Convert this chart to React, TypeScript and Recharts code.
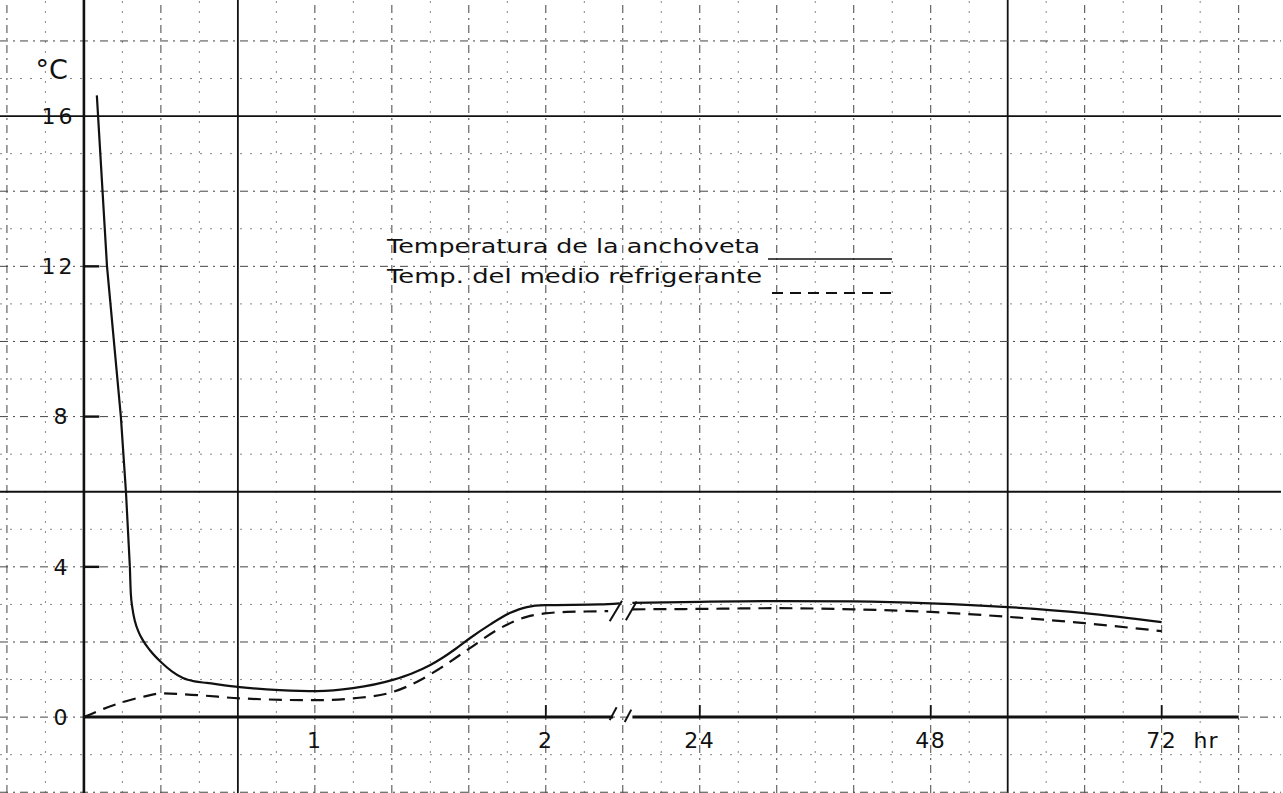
import React from 'react';
import {
  LineChart, Line, XAxis, YAxis, ReferenceLine, ReferenceDot, Legend,
} from 'recharts';

// ---- data (hours, °C) ----
// anchoveta: steep initial drop (drawn straight), then smooth curve
const anchovetaDropHours = [0.056, 0.1, 0.16, 0.182, 0.199];
const anchovetaDropTemp = [16.55, 12.0, 8.0, 6.0, 4.0];
const anchovetaLeftHours = [0.199, 0.203, 0.21, 0.221, 0.238, 0.255, 0.286, 0.338, 0.381, 0.429, 0.48, 0.532, 0.675, 0.848, 1.009, 1.165, 1.338, 1.42, 1.498, 1.553, 1.61, 1.671, 1.76, 1.844, 1.918, 1.996, 2.234, 2.32];
const anchovetaLeftTemp = [4.0, 3.3, 2.9, 2.55, 2.25, 2.05, 1.78, 1.44, 1.22, 1.04, 0.95, 0.91, 0.8, 0.72, 0.69, 0.77, 0.99, 1.16, 1.38, 1.58, 1.82, 2.1, 2.47, 2.77, 2.93, 2.98, 3.0, 3.03];
const medioLeftHours = [0, 0.085, 0.169, 0.255, 0.338, 0.502, 0.675, 1.008, 1.165, 1.338, 1.455, 1.54, 1.67, 1.8, 1.917, 1.995, 2.09, 2.27];
const medioLeftTemp = [0, 0.22, 0.4, 0.54, 0.63, 0.58, 0.5, 0.45, 0.5, 0.67, 0.98, 1.29, 1.83, 2.36, 2.67, 2.76, 2.8, 2.82];
const rightHours = [17, 24, 32, 40, 48, 56, 64, 72];
const anchovetaRightTemp = [3.04, 3.07, 3.09, 3.08, 3.03, 2.93, 2.77, 2.53];
const medioRightTemp = [2.87, 2.88, 2.9, 2.87, 2.8, 2.67, 2.5, 2.29];

// ---- axis labels / ticks ----
const yTickValues = [0, 4, 8, 12, 16];
const yTickMarks = [4, 8, 12];
const xTickHoursLeft = [1, 2];
const xTickHoursRight = [24, 48, 72];
const xTickMarksLeft = [2];
const gridX = Array.from({ length: 33 }, (_, i) => i - 2);
const gridY = Array.from({ length: 21 }, (_, i) => i - 2);
const majorGridX = [4, 24];
const majorGridY = [16, 6];

const SERIES_1 = 'Temperatura de la anchoveta';
const SERIES_2 = 'Temp. del medio refrigerante';
const LEGEND_ORDER = [SERIES_1, SERIES_2];

// broken time axis: 0-2 h on the left (6 grid cells per hour), 24-72 h on the right (4 h per cell)
const posLeft = (h: number) => h * 6;
const posRight = (h: number) => 16 + (h - 24) / 4;

const build = (hs: number[], ts: number[], f: (h: number) => number) =>
  hs.map((h, i) => ({ pos: f(h), t: ts[i] }));

const anchovetaDrop = build(anchovetaDropHours, anchovetaDropTemp, posLeft);
const anchovetaLeft = build(anchovetaLeftHours, anchovetaLeftTemp, posLeft);
const anchovetaRight = build(rightHours, anchovetaRightTemp, posRight);
const medioLeft = build(medioLeftHours, medioLeftTemp, posLeft);
const medioRight = build(rightHours, medioRightTemp, posRight);

const FONT = 'DejaVu Sans';
const INK = '#111';

const renderLegend = (props: any) => {
  const items = (props.payload || [])
    .filter((p: any) => p.type !== 'none')
    .sort((a: any, b: any) => LEGEND_ORDER.indexOf(a.value) - LEGEND_ORDER.indexOf(b.value));
  return (
    <svg width={530} height={75} style={{ display: 'block', overflow: 'visible' }}>
      {items.map((it: any, i: number) => {
        const dashed = it.value === SERIES_2;
        const by = 23 + i * 30;
        return (
          <g key={it.value}>
            <text x={7} y={by} fontSize={19} fontFamily={FONT} fill={INK}
              textLength={dashed ? 375 : 373} lengthAdjust="spacingAndGlyphs">{it.value}</text>
            <line x1={dashed ? 392 : 388} x2={512} y1={by + (dashed ? 10 : 6)} y2={by + (dashed ? 10 : 6)}
              stroke={INK} strokeWidth={dashed ? 1.8 : 1.5} strokeDasharray={dashed ? '11 7' : undefined} />
          </g>
        );
      })}
    </svg>
  );
};

const labelStyle = { fontSize: 22, fontFamily: FONT, fill: INK, letterSpacing: 1.5 };

export default function App() {
  return (
    <div style={{ position: 'absolute', left: 0, top: 0, width: 1283, height: 793, background: '#fff' }}>
      <LineChart width={1283} height={793} margin={{ top: 0, right: 2, bottom: 0, left: 0 }}
        style={{ fontFamily: FONT }}>
        <XAxis type="number" dataKey="pos" domain={[-2.18, 31.1]} hide allowDataOverflow />
        <YAxis type="number" domain={[-2.02, 19.09]} hide allowDataOverflow />

        {gridX.map((v) => {
          const major = majorGridX.includes(v);
          const even = v % 2 === 0;
          return (
            <ReferenceLine key={'gx' + v} x={v}
              stroke={major ? '#111' : even ? '#444' : '#888'}
              strokeWidth={major ? 1.8 : 1}
              strokeDasharray={major ? undefined : even ? '8 5 2 5' : '2 8'} />
          );
        })}
        {gridY.map((v) => {
          const major = majorGridY.includes(v);
          const even = v % 2 === 0;
          return (
            <ReferenceLine key={'gy' + v} y={v}
              stroke={major ? '#111' : even ? '#444' : '#888'}
              strokeWidth={major ? 1.8 : 1}
              strokeDasharray={major ? undefined : even ? '8 5 2 5' : '2 8'} />
          );
        })}

        {/* axes */}
        <ReferenceLine x={0} stroke={INK} strokeWidth={2.6} />
        <ReferenceLine segment={[{ x: 0, y: 0 }, { x: 13.75, y: 0 }]} stroke={INK} strokeWidth={3} />
        <ReferenceLine segment={[{ x: 14.25, y: 0 }, { x: 30, y: 0 }]} stroke={INK} strokeWidth={3} />

        {/* axis break marks */}
        <ReferenceLine segment={[{ x: 13.66, y: -0.08 }, { x: 13.84, y: 0.26 }]} stroke={INK} strokeWidth={2} />
        <ReferenceLine segment={[{ x: 14.05, y: -0.13 }, { x: 14.22, y: 0.2 }]} stroke={INK} strokeWidth={2} />
        <ReferenceLine segment={[{ x: 13.66, y: 2.55 }, { x: 13.98, y: 3.1 }]} stroke={INK} strokeWidth={2} />
        <ReferenceLine segment={[{ x: 14.08, y: 2.58 }, { x: 14.36, y: 3.08 }]} stroke={INK} strokeWidth={2} />

        {/* y ticks */}
        {yTickMarks.map((v) => (
          <ReferenceLine key={'ytm' + v} segment={[{ x: 0, y: v }, { x: 0.4, y: v }]} stroke={INK} strokeWidth={2.4} />
        ))}
        {yTickValues.map((v) => (
          <ReferenceLine key={'ytl' + v} segment={[{ x: -0.01, y: v }, { x: 0, y: v }]} stroke="none"
            label={{ value: String(v), position: 'left', offset: v >= 10 ? 8 : 13, ...labelStyle, letterSpacing: 3 }} />
        ))}

        {/* x ticks */}
        {xTickMarksLeft.map((h) => (
          <ReferenceLine key={'xtml' + h} segment={[{ x: posLeft(h), y: 0 }, { x: posLeft(h), y: 0.32 }]} stroke={INK} strokeWidth={1.8} />
        ))}
        {xTickHoursRight.map((h) => (
          <ReferenceLine key={'xtmr' + h} segment={[{ x: posRight(h), y: 0 }, { x: posRight(h), y: 0.32 }]} stroke={INK} strokeWidth={1.8} />
        ))}
        {xTickHoursLeft.map((h) => (
          <ReferenceLine key={'xtl' + h} segment={[{ x: posLeft(h), y: -0.01 }, { x: posLeft(h), y: 0 }]} stroke="none"
            label={{ value: String(h), position: 'bottom', offset: 15, ...labelStyle }} />
        ))}
        {xTickHoursRight.map((h) => (
          <ReferenceLine key={'xtr' + h} segment={[{ x: posRight(h), y: -0.01 }, { x: posRight(h), y: 0 }]} stroke="none"
            label={{ value: String(h), position: 'bottom', offset: 15, ...labelStyle }} />
        ))}
        <ReferenceLine segment={[{ x: 29.15, y: -0.01 }, { x: 29.15, y: 0 }]} stroke="none"
          label={{ value: 'hr', position: 'bottom', offset: 15, ...labelStyle, letterSpacing: 1 }} />

        <ReferenceDot x={-0.84} y={17.23} r={0} fill="none" stroke="none"
          label={{ value: '°C', position: 'center', fontSize: 27, fontFamily: FONT, fill: INK }} />

        <Line data={anchovetaDrop} dataKey="t" name={SERIES_1} type="linear" stroke={INK} strokeWidth={2.2}
          dot={false} activeDot={false} isAnimationActive={false} />
        <Line data={anchovetaLeft} dataKey="t" name={SERIES_1 + ' a'} legendType="none" type="monotone" stroke={INK} strokeWidth={2.2}
          dot={false} activeDot={false} isAnimationActive={false} />
        <Line data={anchovetaRight} dataKey="t" name={SERIES_1 + ' b'} legendType="none" type="monotone" stroke={INK} strokeWidth={2.2}
          dot={false} activeDot={false} isAnimationActive={false} />
        <Line data={medioLeft} dataKey="t" name={SERIES_2} type="monotone" stroke={INK} strokeWidth={2.2}
          strokeDasharray="13 8" dot={false} activeDot={false} isAnimationActive={false} />
        <Line data={medioRight} dataKey="t" name={SERIES_2 + ' b'} legendType="none" type="monotone" stroke={INK} strokeWidth={2.2}
          strokeDasharray="13 8" dot={false} activeDot={false} isAnimationActive={false} />

        <Legend layout="vertical" align="center" verticalAlign="middle" content={renderLegend}
          wrapperStyle={{ left: 380, top: 230, width: 530, height: 75 }} />
      </LineChart>
    </div>
  );
}
